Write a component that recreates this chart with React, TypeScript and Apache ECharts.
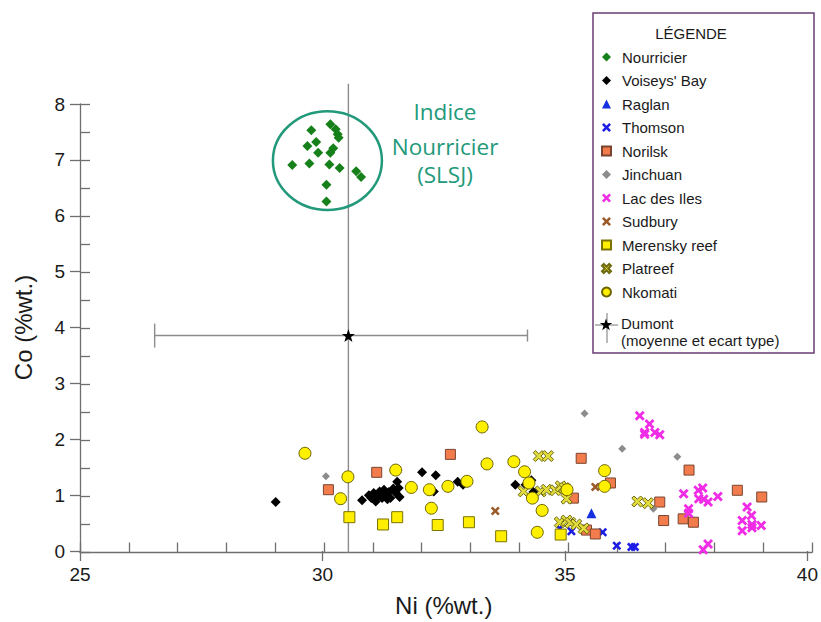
import React, { useEffect, useRef } from "react";
import * as echarts from "echarts";

// ---------- data (Ni %wt., Co %wt.) ----------
const nourricier = [
  [30.13, 7.64], [30.24, 7.55], [30.28, 7.46], [30.3, 7.4], [29.74, 7.53], [29.84, 7.32],
  [29.66, 7.25], [30.19, 7.21], [30.13, 7.13], [29.88, 7.13], [29.35, 6.91], [29.7, 6.94],
  [30.11, 6.92], [30.32, 6.86], [30.66, 6.8], [30.76, 6.7], [30.05, 6.56], [30.05, 6.26],
];
const voiseysBay = [
  [29.01, 0.9], [30.78, 0.93], [30.92, 1.02], [30.97, 0.97], [31.02, 1.06], [31.06, 0.91],
  [31.09, 1.0], [31.14, 1.09], [31.19, 0.97], [31.23, 1.12], [31.26, 1.03], [31.3, 0.95],
  [31.33, 1.08], [31.36, 0.97], [31.42, 1.14], [31.47, 1.06], [31.5, 1.26], [31.55, 0.99],
  [31.53, 1.15], [32.01, 1.43], [32.29, 1.38], [32.25, 1.09], [32.74, 1.26], [32.85, 1.21],
  [33.92, 1.21], [34.13, 1.21], [34.25, 1.29], [34.29, 1.08], [34.27, 1.0],
];
const raglan = [[35.48, 0.7]];
const thomson = [[34.83, 0.43], [35.07, 0.38], [35.71, 0.36], [36.0, 0.12], [36.3, 0.1], [36.37, 0.1]];
const norilsk = [
  [30.09, 1.12], [31.08, 1.43], [32.59, 1.75], [35.27, 1.68], [35.11, 0.97], [35.38, 0.4],
  [35.56, 0.33], [35.87, 1.24], [37.48, 1.47], [36.88, 0.9], [36.96, 0.57], [37.36, 0.6],
  [37.57, 0.54], [38.47, 1.11], [38.97, 0.99],
];
const jinchuan = [[30.04, 1.36], [35.34, 2.48], [36.11, 1.85], [37.24, 1.71], [36.75, 0.78]];
const lacDesIles = [
  [36.47, 2.44], [36.67, 2.29], [36.57, 2.14], [36.57, 2.11], [36.78, 2.14], [36.88, 2.1],
  [37.37, 1.05], [37.67, 1.11], [37.76, 1.15], [37.68, 0.96], [37.78, 0.95], [37.87, 0.9],
  [38.07, 1.0], [37.47, 0.78], [37.47, 0.7], [38.67, 0.81], [38.76, 0.66], [38.57, 0.57],
  [38.77, 0.5], [38.77, 0.44], [38.96, 0.48], [38.57, 0.39], [37.87, 0.15], [37.77, 0.05],
];
const sudbury = [[35.56, 1.17], [33.51, 0.74]];
const merenskyReef = [[30.52, 0.63], [31.21, 0.5], [31.5, 0.63], [32.33, 0.49], [32.97, 0.54], [33.63, 0.29], [34.85, 0.32]];
const platreef = [
  [34.4, 1.72], [34.59, 1.72], [34.09, 1.09], [34.44, 1.09], [34.56, 1.12], [34.74, 1.11],
  [34.85, 1.18], [34.93, 1.15], [34.97, 0.96], [34.83, 0.54], [34.97, 0.57], [35.05, 0.53],
  [35.17, 0.5], [35.32, 0.43], [36.42, 0.91], [36.64, 0.88],
];
const nkomati = [
  [29.61, 1.77], [30.49, 1.35], [30.34, 0.96], [31.47, 1.47], [31.79, 1.16], [32.16, 1.12],
  [32.54, 1.18], [32.2, 0.79], [32.93, 1.27], [33.24, 2.24], [33.34, 1.58], [33.89, 1.62],
  [34.11, 1.44], [34.47, 0.75], [34.37, 0.36], [34.98, 1.12], [34.27, 0.97], [34.2, 1.24],
  [35.75, 1.46], [35.75, 1.18],
];
// Dumont: mean and standard-deviation range
const dumontMean = [30.5, 3.87];
const dumontNiRange = [26.53, 34.17];
const dumontCoRange = [0, 8.36];

const xMin = 25, xMax = 40, xMajor = 5, xMinor = 1;
const yMin = 0, yMax = 8, yMajor = 1, yMinor = 0.5;
const xTitle = "Ni (%wt.)";
const yTitle = "Co (%wt.)";
const legendTitle = "LÉGENDE";
const annotationLines = ["Indice", "Nourricier", "(SLSJ)"];
const annotationCenter = [30.07, 6.99];
const annotationRadius = [1.117, 0.88];

const CROSS = "path://M2,0L5,3L8,0L10,2L7,5L10,8L8,10L5,7L2,10L0,8L3,5L0,2Z";
const starPts = (cx: number, cy: number, R: number, r: number) => {
  const pts: number[][] = [];
  for (let k = 0; k < 10; k++) {
    const a = ((-90 + k * 36) * Math.PI) / 180;
    const rr = k % 2 === 0 ? R : r;
    pts.push([cx + rr * Math.cos(a), cy + rr * Math.sin(a)]);
  }
  return pts;
};
const STAR = "path://M10,0L12.35,6.76L19.51,6.91L13.8,11.24L15.88,18.09L10,14L4.12,18.09L6.2,11.24L0.49,6.91L7.65,6.76Z";

const FONT = "'Liberation Sans', Arial, sans-serif";
const TEAL = "#22997a";

export default function App() {
  const ref = useRef<HTMLDivElement>(null);
  useEffect(() => {
    if (!ref.current) return;
    const chart = echarts.init(ref.current, null, { renderer: "svg" });

    const sc = (name: string, data: number[][], symbol: string, size: number, color: string, border?: string, z = 2) => ({
      type: "scatter",
      name,
      data,
      xAxisIndex: 0,
      yAxisIndex: 0,
      symbol,
      symbolSize: size,
      z,
      itemStyle: { color, borderColor: border || color, borderWidth: border ? 1 : 0, opacity: 1 },
      emphasis: { disabled: true },
    });

    const legendNames = [
      "Nourricier", "Voiseys' Bay", "Raglan", "Thomson", "Norilsk", "Jinchuan",
      "Lac des Iles", "Sudbury", "Merensky reef", "Platreef", "Nkomati",
    ];

    const base: any = {
      animation: false,
      backgroundColor: "#ffffff",
      grid: [
        { left: 80, right: 9, top: 104, bottom: 69.5 },
        { left: 80, right: 9, top: 104, bottom: 69.5 },
      ],
      xAxis: [
        {
          type: "value", gridIndex: 0, min: xMin, max: xMax, interval: xMinor,
          axisLine: { show: true, onZero: false, lineStyle: { color: "#6f6f6f", width: 1.3 } },
          axisTick: { show: true, inside: true, length: 10, lineStyle: { color: "#6f6f6f", width: 1.3 } },
          axisLabel: { show: false },
          splitLine: { show: false },
        },
        {
          type: "value", gridIndex: 1, min: xMin, max: xMax, interval: xMajor,
          axisLine: { show: false, onZero: false },
          axisTick: { show: true, inside: false, length: 10, lineStyle: { color: "#6f6f6f", width: 1.3 } },
          axisLabel: { show: true, margin: 14, fontSize: 19, color: "#1a1a1a", fontFamily: FONT },
          splitLine: { show: false },
          name: xTitle, nameLocation: "middle", nameGap: 42,
          nameTextStyle: { fontSize: 24, color: "#1a1a1a", fontFamily: FONT },
        },
      ],
      yAxis: [
        {
          type: "value", gridIndex: 0, min: yMin, max: yMax, interval: yMinor,
          axisLine: { show: true, onZero: false, lineStyle: { color: "#6f6f6f", width: 1.3 } },
          axisTick: { show: true, inside: true, length: 10, lineStyle: { color: "#6f6f6f", width: 1.3 } },
          axisLabel: { show: false },
          splitLine: { show: false },
        },
        {
          type: "value", gridIndex: 1, min: yMin, max: yMax, interval: yMajor,
          axisLine: { show: false, onZero: false },
          axisTick: { show: true, inside: false, length: 10, lineStyle: { color: "#6f6f6f", width: 1.3 } },
          axisLabel: { show: true, margin: 15, fontSize: 19, color: "#1a1a1a", fontFamily: FONT },
          splitLine: { show: false },
          name: yTitle, nameLocation: "middle", nameGap: 45, nameRotate: 90,
          nameTextStyle: { fontSize: 24, color: "#1a1a1a", fontFamily: FONT },
        },
      ],
      legend: [
        {
          data: legendNames,
          orient: "vertical",
          left: 601,
          top: 49,
          padding: 0,
          itemGap: 7.5,
          itemWidth: 9,
          itemHeight: 9,
          selectedMode: false,
          textStyle: { fontSize: 15, lineHeight: 16, color: "#1a1a1a", fontFamily: FONT, padding: [0, 0, 0, 6] },
          z: 5,
        },
        {
          data: [{ name: "Dumont", icon: "none" }],
          orient: "vertical",
          left: 601,
          top: 315,
          padding: 0,
          itemWidth: 9,
          itemHeight: 9,
          selectedMode: false,
          formatter: () => "Dumont\n(moyenne et ecart type)",
          textStyle: { fontSize: 15, lineHeight: 17, color: "#1a1a1a", fontFamily: FONT, padding: [0, 0, 0, 6] },
          z: 5,
        },
      ],
      series: [
        {
          type: "custom",
          name: "Dumont écart type",
          xAxisIndex: 0,
          yAxisIndex: 0,
          clip: false,
          silent: true,
          z: 1,
          data: [[dumontMean[0], dumontMean[1], dumontNiRange[0], dumontNiRange[1], dumontCoRange[0], dumontCoRange[1]]],
          renderItem: (params: any, api: any) => {
            const c = api.coord([api.value(0), api.value(1)]);
            const l = api.coord([api.value(2), api.value(1)]);
            const r = api.coord([api.value(3), api.value(1)]);
            const b = api.coord([api.value(0), api.value(4)]);
            const t = api.coord([api.value(0), api.value(5)]);
            const style = { stroke: "#8c8c8c", lineWidth: 1.4 };
            return {
              type: "group",
              children: [
                { type: "line", shape: { x1: l[0], y1: c[1], x2: r[0], y2: c[1] }, style },
                { type: "line", shape: { x1: b[0], y1: b[1], x2: t[0], y2: t[1] }, style },
                { type: "line", shape: { x1: l[0], y1: c[1] - 12, x2: l[0], y2: c[1] + 12 }, style },
                { type: "line", shape: { x1: r[0], y1: c[1] - 6, x2: r[0], y2: c[1] + 6 }, style },
              ],
            };
          },
        },
        sc("Nourricier", nourricier, "diamond", 10, "#16801a"),
        sc("Voiseys' Bay", voiseysBay, "diamond", 10, "#000000"),
        sc("Raglan", raglan, "triangle", 10, "#1530e0"),
        sc("Thomson", thomson, CROSS, 9, "#1c1ce6"),
        sc("Norilsk", norilsk, "rect", 10, "#f27c4c", "#7a4530"),
        sc("Jinchuan", jinchuan, "diamond", 8, "#8c8c8c"),
        sc("Lac des Iles", lacDesIles, CROSS, 10, "#f02ce6"),
        sc("Sudbury", sudbury, CROSS, 9, "#9b5a2a"),
        sc("Merensky reef", merenskyReef, "rect", 11, "#ffee00", "#7a7200"),
        sc("Platreef", platreef, CROSS, 11, "#e2dc3c", "#6f6a10"),
        sc("Nkomati", nkomati, "circle", 12, "#fff000", "#6b6400"),
        sc("Dumont", [dumontMean], STAR, 13, "#000000", undefined, 3),
      ],
    };
    chart.setOption(base);

    const c = chart.convertToPixel({ xAxisIndex: 0, yAxisIndex: 0 } as any, annotationCenter) as number[];
    const e = chart.convertToPixel({ xAxisIndex: 0, yAxisIndex: 0 } as any, [
      annotationCenter[0] + annotationRadius[0],
      annotationCenter[1] - annotationRadius[1],
    ]) as number[];

    // Dumont legend glyph
    const gx = 606, gy = 325;
    const AF = "'Open Sans', sans-serif";
    chart.setOption({
      graphic: [
        { type: "rect", z: 0, shape: { x: 593, y: 13, width: 221, height: 340 }, style: { fill: "#ffffff", stroke: "#6a3d73", lineWidth: 1.5 } },
        { type: "text", z: 6, x: 691, y: 33, style: { text: legendTitle, fontSize: 15, fontFamily: FONT, fill: "#1a1a1a", align: "center", verticalAlign: "middle" } },
        { type: "line", z: 6, shape: { x1: gx - 11, y1: gy, x2: gx + 12, y2: gy }, style: { stroke: "#8c8c8c", lineWidth: 1.2 } },
        { type: "line", z: 6, shape: { x1: gx + 1, y1: gy - 12, x2: gx + 1, y2: gy + 18 }, style: { stroke: "#8c8c8c", lineWidth: 1.2 } },
        { type: "polygon", z: 7, shape: { points: starPts(gx, gy, 6.5, 2.6) }, style: { fill: "#000000" } },
        {
          type: "ellipse", z: 8,
          shape: { cx: c[0], cy: c[1], rx: Math.abs(e[0] - c[0]), ry: Math.abs(e[1] - c[1]) },
          style: { fill: "none", stroke: TEAL, lineWidth: 2.5 },
        },
        { type: "text", z: 8, x: 445, y: 111, style: { text: annotationLines[0], fontSize: 22.5, fontFamily: AF, fill: TEAL, align: "center", verticalAlign: "middle" } },
        { type: "text", z: 8, x: 445, y: 146, style: { text: annotationLines[1], fontSize: 22.5, fontFamily: AF, fill: TEAL, align: "center", verticalAlign: "middle" } },
        { type: "text", z: 8, x: 445, y: 174, style: { text: annotationLines[2], fontSize: 22.5, fontFamily: AF, fill: TEAL, align: "center", verticalAlign: "middle" } },
      ],
    });

    return () => chart.dispose();
  }, []);
  return <div ref={ref} style={{ position: "absolute", left: 0, top: 0, width: 821, height: 622 }} />;
}
